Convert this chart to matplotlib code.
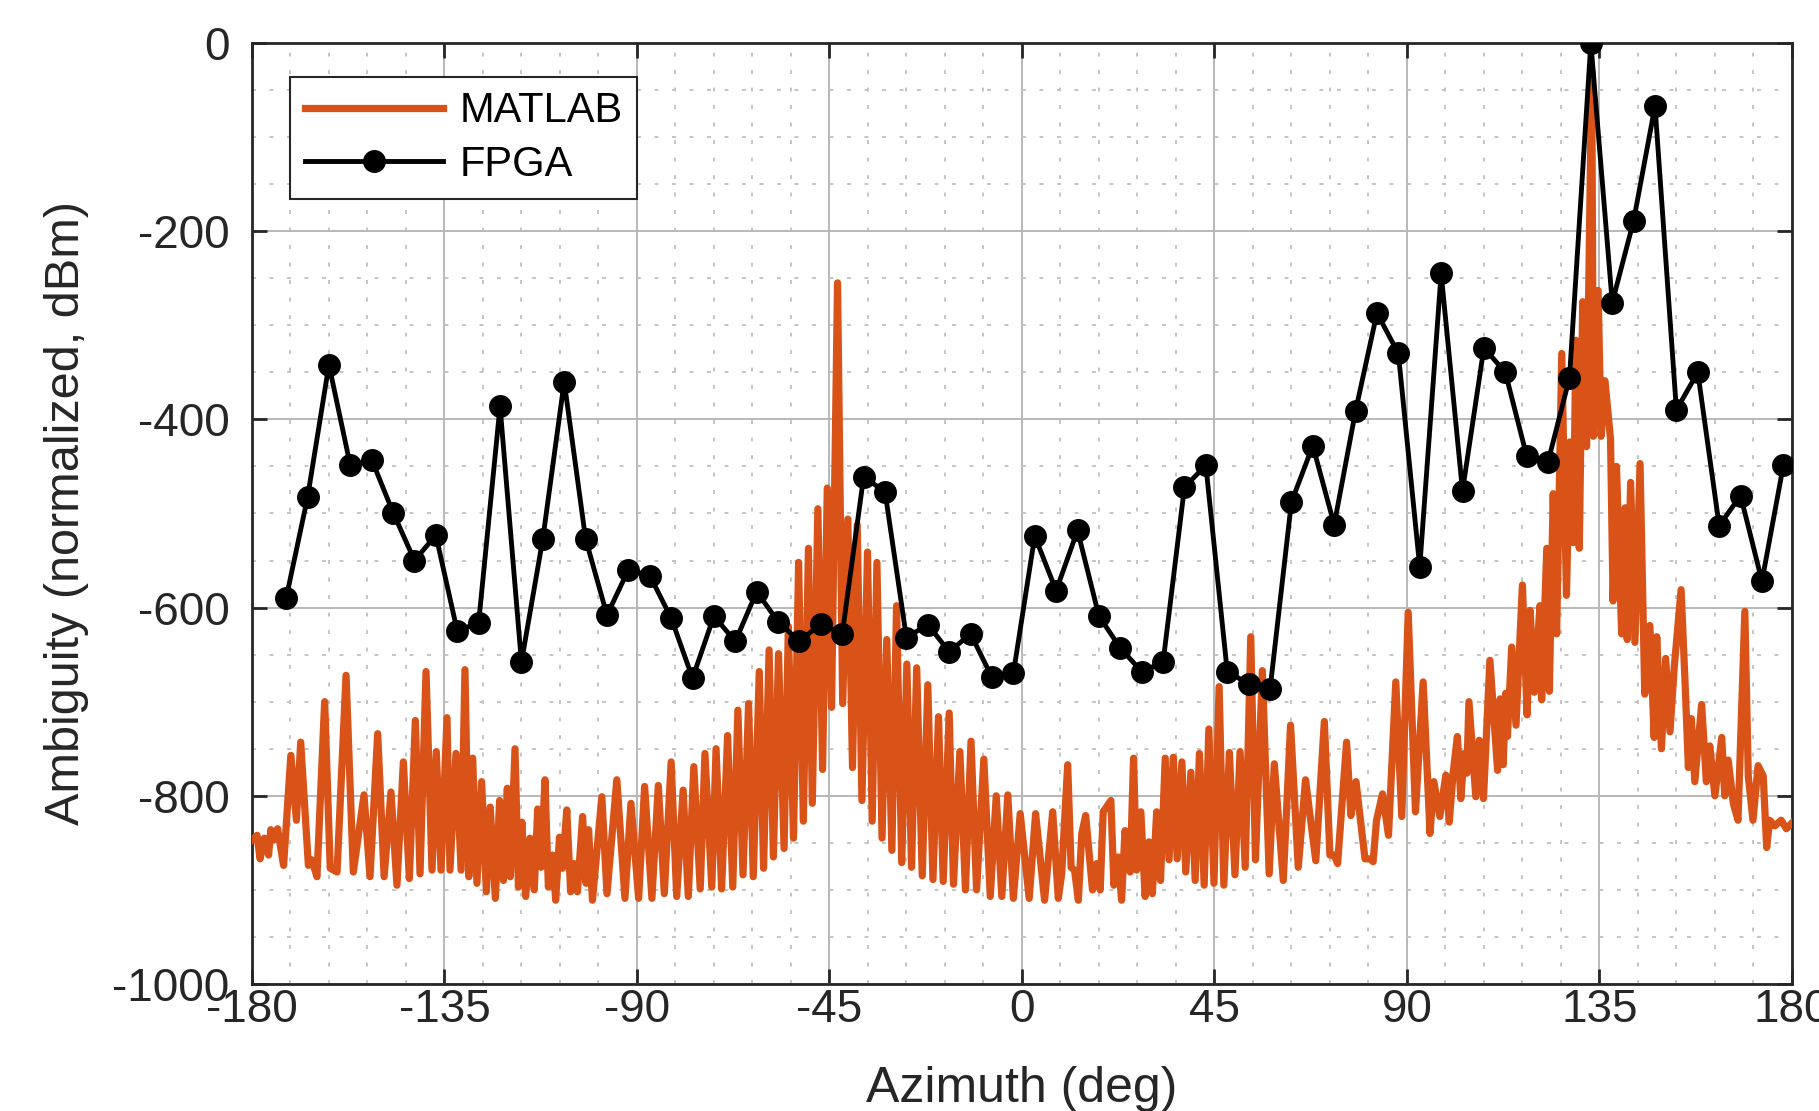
import matplotlib
matplotlib.use('Agg')
import matplotlib.pyplot as plt
from matplotlib.ticker import MultipleLocator

plt.rcParams['font.family'] = ['Liberation Sans', 'DejaVu Sans']
plt.rcParams['axes.unicode_minus'] = False

# MATLAB simulation (peaks and troughs)
matlab_az = [
    -180.0, -178.8, -178.1, -177.1, -176.1, -175.6, -174.9, -174.0, -172.6, -170.9,
    -169.6, -168.6, -166.8, -166.0, -164.8, -163.0, -161.7, -160.1, -158.0, -156.3,
    -153.8, -152.4, -150.6, -149.1, -147.5, -146.1, -144.6, -143.2, -141.8, -140.7,
    -139.3, -137.9, -136.9, -135.8, -134.4, -133.7, -132.3, -131.1, -130.2, -129.3,
    -128.4, -127.4, -126.3, -125.2, -124.3, -123.1, -122.1, -121.2, -120.3, -119.6,
    -118.5, -117.7, -116.9, -116.0, -115.0, -114.0, -113.2, -112.4, -111.5, -110.7,
    -109.7, -109.0, -108.1, -107.4, -106.4, -105.5, -104.7, -103.9, -102.7, -101.9,
    -101.3, -100.4, -98.2, -97.0, -94.7, -92.8, -91.4, -89.6, -88.2, -86.5,
    -85.0, -83.6, -82.0, -80.7, -79.2, -78.0, -76.7, -75.2, -74.1, -72.5,
    -71.5, -70.2, -68.8, -67.6, -66.4, -65.2, -63.9, -62.8, -61.4, -60.4,
    -59.1, -58.1, -56.9, -55.6, -54.6, -53.4, -52.2, -51.1, -49.9, -49.0,
    -47.7, -46.6, -45.5, -44.5, -43.1, -41.9, -40.7, -39.6, -38.5, -37.4,
    -36.1, -35.0, -33.9, -32.7, -31.6, -30.4, -29.3, -28.1, -26.9, -25.8,
    -24.6, -23.3, -22.0, -20.8, -19.5, -18.4, -17.0, -16.0, -14.5, -13.2,
    -11.9, -10.6, -8.9, -7.4, -6.0, -4.7, -3.3, -2.0, -0.4, 1.7,
    3.2, 5.3, 7.2, 8.5, 9.3, 10.7, 11.5, 12.3, 13.2, 14.0,
    14.9, 16.5, 17.5, 18.3, 19.0, 20.8, 21.5, 22.5, 23.3, 24.1,
    25.3, 26.1, 26.8, 27.8, 28.8, 29.7, 30.5, 31.5, 32.4, 33.5,
    34.4, 35.4, 36.3, 37.4, 38.3, 39.5, 40.5, 41.5, 42.6, 43.7,
    44.9, 46.1, 47.2, 48.5, 49.8, 51.0, 52.2, 53.5, 54.6, 56.2,
    57.8, 59.0, 61.1, 62.8, 64.6, 66.3, 68.7, 70.7, 72.0, 73.0,
    73.8, 75.9, 76.9, 78.1, 80.2, 81.4, 82.1, 82.9, 84.3, 85.7,
    87.4, 88.8, 90.3, 92.0, 93.8, 95.4, 96.3, 97.7, 99.1, 99.9,
    100.8, 101.8, 102.6, 103.4, 104.0, 104.5, 106.1, 106.9, 107.9, 109.4,
    111.2, 111.8, 112.5, 113.1, 113.5, 114.5, 115.5, 117.0, 118.1, 118.8,
    119.8, 121.1, 121.5, 122.7, 123.3, 124.2, 125.0, 126.2, 127.3, 128.1,
    128.9, 129.5, 130.3, 131.1, 132.0, 133.2, 133.6, 134.7, 135.4, 136.3,
    137.6, 138.2, 139.0, 140.2, 141.0, 141.5, 142.3, 143.3, 144.5, 145.6,
    146.8, 147.8, 148.4, 149.5, 150.5, 151.5, 152.5, 154.1, 155.0, 155.8,
    156.5, 157.3, 158.9, 160.0, 160.8, 162.0, 163.6, 164.3, 165.1, 166.3,
    167.4, 169.0, 169.8, 170.9, 172.1, 173.3, 174.1, 174.8, 176.0, 177.5,
    178.7, 180.0,
]
matlab_amb = [
    -847, -842, -867, -845, -863, -836, -847, -835, -874, -757,
    -826, -743, -874, -868, -886, -700, -877, -881, -672, -881,
    -799, -886, -734, -886, -796, -895, -764, -888, -720, -883,
    -668, -879, -753, -879, -717, -879, -755, -879, -666, -886,
    -760, -893, -785, -902, -812, -909, -805, -890, -792, -886,
    -750, -897, -828, -907, -845, -900, -814, -876, -783, -897,
    -863, -911, -844, -877, -815, -902, -872, -902, -822, -893,
    -836, -911, -801, -904, -783, -909, -808, -909, -790, -909,
    -789, -904, -764, -907, -794, -907, -769, -899, -755, -897,
    -750, -899, -736, -897, -709, -884, -702, -886, -668, -877,
    -645, -865, -649, -856, -620, -845, -552, -827, -537, -808,
    -495, -772, -473, -706, -255, -702, -506, -770, -512, -805,
    -541, -827, -552, -845, -634, -858, -598, -871, -660, -876,
    -664, -885, -682, -889, -716, -891, -712, -894, -753, -900,
    -742, -900, -761, -907, -800, -907, -799, -909, -819, -909,
    -819, -911, -817, -909, -883, -767, -876, -879, -911, -840,
    -821, -900, -872, -900, -817, -805, -895, -865, -911, -837,
    -881, -760, -879, -817, -907, -849, -904, -817, -890, -760,
    -868, -759, -867, -764, -881, -775, -890, -755, -895, -729,
    -893, -684, -895, -754, -884, -753, -876, -631, -868, -667,
    -883, -766, -890, -725, -876, -783, -869, -721, -863, -863,
    -872, -743, -821, -785, -867, -867, -870, -826, -798, -842,
    -679, -822, -605, -817, -679, -840, -785, -822, -778, -828,
    -776, -737, -803, -755, -776, -700, -801, -741, -803, -656,
    -773, -697, -767, -691, -737, -642, -725, -576, -714, -603,
    -690, -598, -698, -537, -689, -479, -628, -330, -587, -424,
    -531, -316, -537, -275, -429, -30, -418, -263, -418, -359,
    -421, -593, -450, -628, -494, -634, -467, -637, -447, -692,
    -619, -738, -631, -750, -654, -732, -663, -581, -677, -770,
    -718, -785, -703, -785, -747, -800, -738, -800, -762, -808,
    -826, -604, -779, -826, -768, -779, -855, -826, -832, -826,
    -835, -829,
]

# FPGA measurement, one point every 5 degrees
fpga_az = [
    -172, -167, -162, -157, -152, -147, -142, -137, -132, -127,
    -122, -117, -112, -107, -102, -97, -92, -87, -82, -77,
    -72, -67, -62, -57, -52, -47, -42, -37, -32, -27,
    -22, -17, -12, -7, -2, 3, 8, 13, 18, 23,
    28, 33, 38, 43, 48, 53, 58, 63, 68, 73,
    78, 83, 88, 93, 98, 103, 108, 113, 118, 123,
    128, 133, 138, 143, 148, 153, 158, 163, 168, 173,
    178,
]
fpga_amb = [
    -590, -483, -342, -449, -443, -499, -550, -523, -625, -616,
    -386, -658, -527, -360, -527, -608, -560, -566, -611, -675,
    -609, -636, -583, -615, -636, -617, -628, -461, -477, -632,
    -618, -647, -628, -674, -670, -524, -582, -518, -609, -643,
    -668, -658, -472, -449, -668, -681, -687, -488, -428, -512,
    -391, -287, -330, -557, -245, -476, -324, -350, -439, -445,
    -356, 0, -276, -189, -67, -390, -350, -513, -481, -572,
    -449,
]

x_ticks = [-180, -135, -90, -45, 0, 45, 90, 135, 180]
y_ticks = [-1000, -800, -600, -400, -200, 0]

fig = plt.figure(figsize=(18.19, 11.11), dpi=100)
ax = fig.add_axes([0.1385, 0.1143, 0.8466, 0.8471])

ax.plot(matlab_az, matlab_amb, color='#D95319', lw=5.2,
        solid_joinstyle='round', label='MATLAB', zorder=3)
ax.plot(fpga_az, fpga_amb, color='black', lw=3.5, marker='o', ms=15.5,
        label='FPGA', zorder=4)

ax.set_xlim(-180, 180)
ax.set_ylim(-1000, 0)
ax.set_xticks(x_ticks)
ax.set_yticks(y_ticks)
ax.xaxis.set_minor_locator(MultipleLocator(9))
ax.yaxis.set_minor_locator(MultipleLocator(50))

ax.grid(True, which='major', color='#b8b8b8', lw=1.4, ls='-', zorder=0)
ax.grid(True, which='minor', color='#c4c4c4', lw=1.4, ls=(0, (2.0, 7.0)), zorder=0)
ax.set_axisbelow(True)

ax.tick_params(which='major', direction='in', length=11, width=2,
               top=True, right=True, color='#262626', labelcolor='#262626',
               labelsize=33)
ax.tick_params(axis='x', which='major', pad=3)
ax.tick_params(axis='y', which='major', pad=16)
ax.tick_params(which='minor', length=0)
for s in ax.spines.values():
    s.set_color('#262626')
    s.set_linewidth(2)

ax.set_xlabel('Azimuth (deg)', fontsize=36, color='#262626', labelpad=24)
ax.set_ylabel('Ambiguity (normalized, dBm)', fontsize=35, color='#262626', labelpad=17)

leg = ax.legend(loc='upper left', bbox_to_anchor=(0.025, 0.964), borderaxespad=0,
                fontsize=30, handlelength=3.3, handletextpad=0.4, labelspacing=0.32,
                borderpad=0.35, fancybox=False, framealpha=1, edgecolor='#262626')
leg.get_frame().set_linewidth(1.5)

fig.savefig('out.png', dpi=100)
